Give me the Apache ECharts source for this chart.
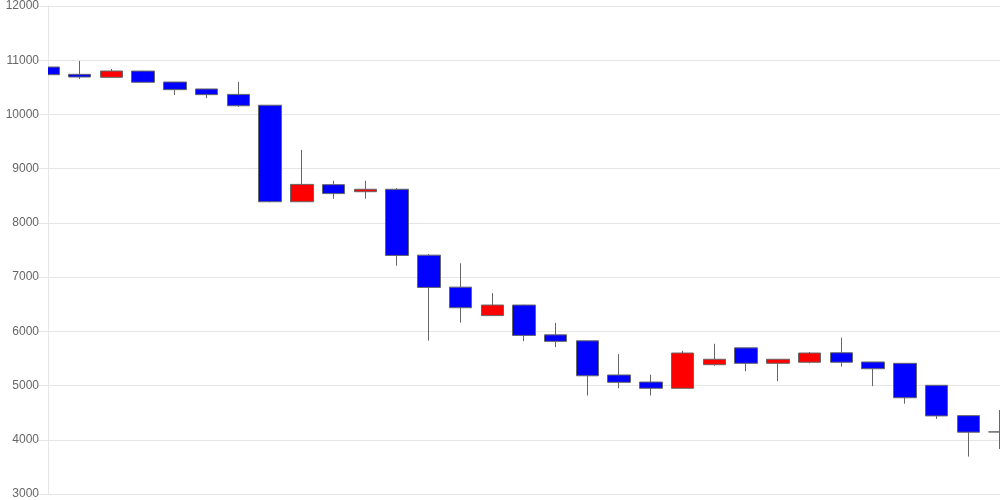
<!DOCTYPE html>
<html>
<head>
<meta charset="utf-8">
<script src="https://cdn.jsdelivr.net/npm/echarts@6/dist/echarts.min.js"></script>
<style>
html,body{margin:0;padding:0;background:#fff;}
#chart{width:1000px;height:500px;}
</style>
</head>
<body>
<div id="chart"></div>
<script>
var categories = ['1','2','3','4','5','6','7','8','9','10','11','12','13','14','15','16','17','18','19','20','21','22','23','24','25','26','27','28','29','30','31'];
var openValues  = [10875,10740,10685,10800,10598,10470,10370,10170,8390,8705,8575,8620,7405,6815,6290,6485,5935,5825,5195,5065,4950,5385,5695,5410,5430,5605,5435,5410,5005,4445,4145];
var closeValues = [10733,10690,10801,10593,10457,10365,10160,8390,8710,8540,8620,7400,6810,6435,6485,5925,5815,5180,5060,4950,5600,5485,5410,5485,5600,5430,5310,4775,4440,4140,4145];
var lowValues   = [10580,10654,10685,10590,10360,10300,10140,8380,8390,8445,8445,7210,5830,6160,6285,5820,5710,4815,4950,4815,4950,5365,5265,5080,5410,5350,4990,4665,4385,3690,3830];
var highValues  = [10880,10986,10838,10805,10600,10470,10600,10170,9345,8775,8775,8640,7425,7255,6705,6490,6155,5830,5580,5200,5640,5770,5700,5485,5620,5885,5435,5410,5010,4445,4550];
var yTicks = { min: 3000, max: 12000, interval: 1000 };

var ohlc = categories.map(function (c, i) {
  return [openValues[i], closeValues[i], lowValues[i], highValues[i]];
});

var chart = echarts.init(document.getElementById('chart'), null, { renderer: 'canvas' });
chart.setOption({
  animation: false,
  backgroundColor: '#ffffff',
  grid: { left: 48, right: -1, top: 6, bottom: 6, containLabel: false },
  graphic: [{
    type: 'rect',
    left: 0,
    top: 65,
    z: 100,
    shape: { width: 48, height: 25 },
    style: { fill: '#ffffff' }
  }],
  xAxis: {
    type: 'category',
    data: categories,
    boundaryGap: false,
    axisLine: { show: true, lineStyle: { color: '#e6e6e6' } },
    axisTick: { show: false },
    axisLabel: { show: false },
    splitLine: { show: false }
  },
  yAxis: {
    type: 'value',
    min: yTicks.min,
    max: yTicks.max,
    interval: yTicks.interval,
    axisLine: { show: true, lineStyle: { color: '#e6e6e6' } },
    axisTick: { show: true, length: 10, lineStyle: { color: '#e6e6e6' } },
    axisLabel: {
      color: '#666',
      fontSize: 12,
      fontFamily: 'Liberation Sans, Arial, sans-serif',
      margin: 9,
      formatter: function (v) { return String(v); }
    },
    splitLine: { show: true, lineStyle: { color: '#e6e6e6' } }
  },
  series: [{
    type: 'candlestick',
    data: ohlc,
    barWidth: 23,
    clip: true,
    itemStyle: {
      color: '#ff0000',
      color0: '#0000ff',
      borderColor: '#666666',
      borderColor0: '#666666',
      borderWidth: 1
    }
  }]
});
</script>
</body>
</html>
